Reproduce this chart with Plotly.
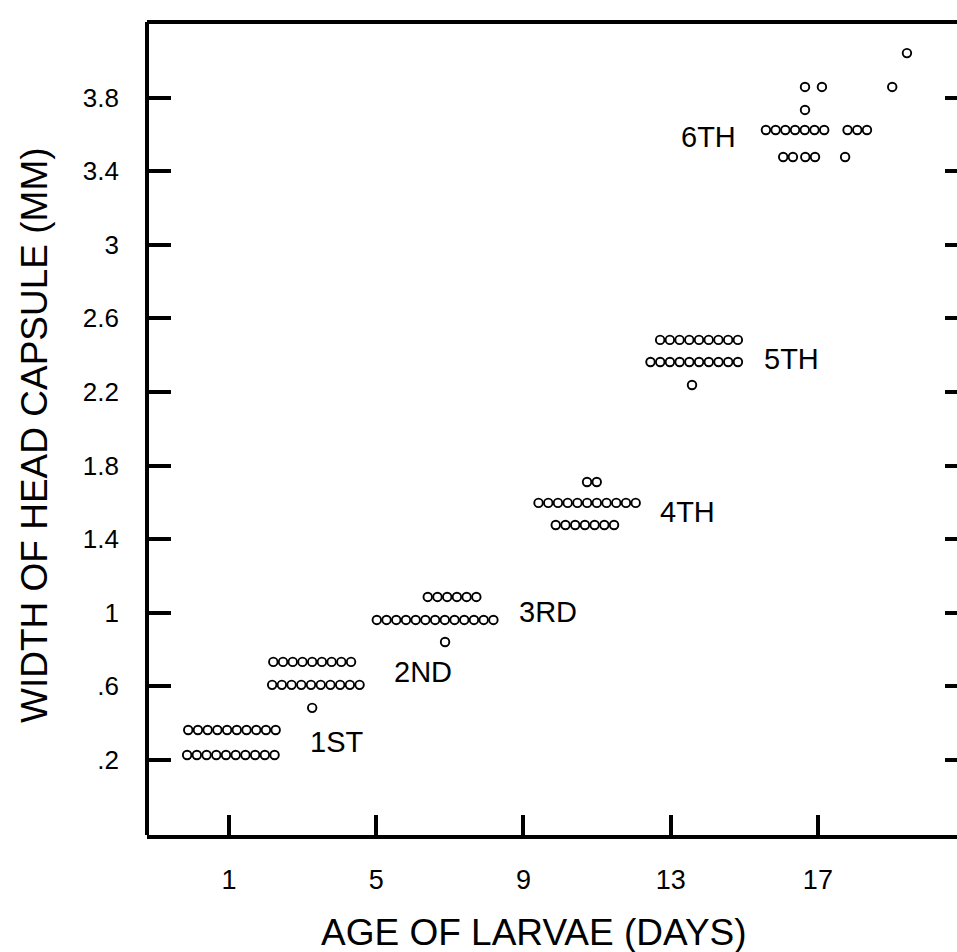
import plotly.graph_objects as go

# ---------------- data ----------------
# Each row of circles: head-capsule width (mm), centre day of the row, number of larvae
ROW_WIDTH_MM = [0.363, 0.227,            # 1st instar
                0.733, 0.608, 0.483,     # 2nd
                1.086, 0.961, 0.841,     # 3rd
                1.711, 1.597, 1.477,     # 4th
                2.483, 2.363, 2.238,     # 5th
                3.858, 3.858, 3.858, 4.042, 3.733,
                3.624, 3.624, 3.477, 3.477, 3.477]  # 6th
ROW_CENTER_DAY = [1.08, 1.05,
                  3.26, 3.36, 3.26,
                  7.06, 6.60, 6.87,
                  10.86, 10.73, 10.67,
                  13.77, 13.64, 13.58,
                  16.65, 17.11, 19.02, 19.42, 16.65,
                  16.38, 18.07, 16.19, 16.79, 17.74]
ROW_COUNT = [10, 10,
             9, 10, 1,
             6, 13, 1,
             2, 11, 7,
             9, 10, 1,
             1, 1, 1, 1, 1,
             7, 3, 2, 2, 1]

INSTAR_LABELS = ["1ST", "2ND", "3RD", "4TH", "5TH", "6TH"]
LABEL_DAY = [3.93, 6.27, 9.67, 13.47, 16.27, 14.02]
LABEL_WIDTH = [0.298, 0.678, 1.004, 1.548, 2.379, 3.586]

X_TICKS = [1, 5, 9, 13, 17]
Y_TICKS = [0.2, 0.6, 1.0, 1.4, 1.8, 2.2, 2.6, 3.0, 3.4, 3.8]
Y_TICKTEXT = [".2", ".6", "1", "1.4", "1.8", "2.2", "2.6", "3", "3.4", "3.8"]

DOT_STEP = 0.264  # spacing of side-by-side circles (days)

# ---------------- build points ----------------
xs, ys = [], []
for w, c, n in zip(ROW_WIDTH_MM, ROW_CENTER_DAY, ROW_COUNT):
    for i in range(n):
        xs.append(c + (i - (n - 1) / 2) * DOT_STEP)
        ys.append(w)

FONT = "Liberation Sans, Arial, Helvetica, sans-serif"
XR = [-1.228, 20.78]
YR = [-0.208, 4.211]

fig = go.Figure()
fig.add_trace(go.Scatter(
    x=xs, y=ys, mode="markers",
    marker=dict(symbol="circle-open", size=8.5, color="black", line=dict(width=1.9, color="black")),
    hoverinfo="skip", showlegend=False))
# invisible trace to activate right-side tick axis
fig.add_trace(go.Scatter(x=[XR[0]], y=[YR[0]], yaxis="y2", mode="markers",
                         marker=dict(opacity=0), hoverinfo="skip", showlegend=False))

for t, d, w in zip(INSTAR_LABELS, LABEL_DAY, LABEL_WIDTH):
    fig.add_annotation(x=d, y=w, text=t, showarrow=False,
                       font=dict(family=FONT, size=29, color="black"))

fig.add_annotation(x=-0.1395, y=0.492, xref="paper", yref="paper", text="WIDTH OF HEAD CAPSULE (MM)",
                   textangle=-90, showarrow=False, xanchor="center", yanchor="middle",
                   font=dict(family=FONT, size=37, color="black"))
fig.add_annotation(x=0.478, y=-0.1195, xref="paper", yref="paper", text="AGE OF LARVAE (DAYS)",
                   showarrow=False, xanchor="center", yanchor="middle",
                   font=dict(family=FONT, size=37, color="black"))

# frame: left and top lines
fig.add_shape(type="line", xref="paper", yref="paper", x0=0, x1=0, y0=0, y1=1,
              line=dict(color="black", width=4))
fig.add_shape(type="line", xref="paper", yref="paper", x0=0, x1=1, y0=1, y1=1,
              line=dict(color="black", width=4))

fig.update_layout(
    width=957, height=952,
    margin=dict(l=147, r=0, t=22, b=117),
    paper_bgcolor="white", plot_bgcolor="white",
    font=dict(family=FONT, color="black"),
    xaxis=dict(range=XR, tickvals=X_TICKS, ticks="inside", ticklen=20, tickwidth=4,
               tickcolor="black", showline=True, linewidth=4, linecolor="black",
               showgrid=False, zeroline=False, tickfont=dict(size=27, family=FONT),
               ticklabelstandoff=18),
    yaxis=dict(range=YR, tickvals=Y_TICKS, ticktext=Y_TICKTEXT, ticks="inside", ticklen=24,
               tickwidth=4, tickcolor="black", showline=False, showgrid=False, zeroline=False,
               tickfont=dict(size=26, family=FONT), ticklabelstandoff=27),
    yaxis2=dict(range=YR, tickvals=Y_TICKS, overlaying="y", side="right", ticks="inside",
                ticklen=12, tickwidth=4, tickcolor="black", showticklabels=False,
                showline=False, showgrid=False, zeroline=False),
)

fig.write_html("out.html", config={"displayModeBar": False},
               post_script="document.body.style.margin='0';document.body.style.overflow='hidden';")
